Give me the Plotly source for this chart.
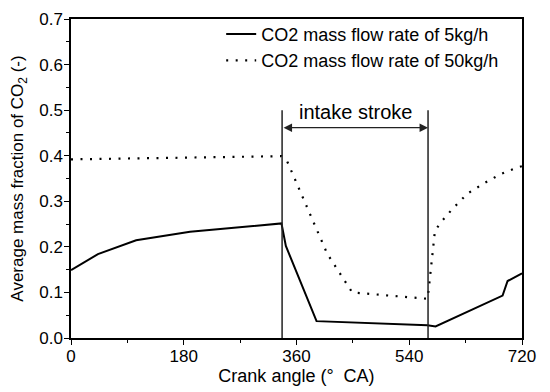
import plotly.graph_objects as go

# Solid series: CO2 mass flow rate of 5 kg/h
angle_5 = [0, 43, 104, 190, 336, 343, 392, 459, 569, 582, 689, 697, 720]
frac_5 = [0.149, 0.184, 0.2145, 0.233, 0.2515, 0.202, 0.037, 0.033, 0.028, 0.0254, 0.093, 0.125, 0.142]

# Dotted series: CO2 mass flow rate of 50 kg/h
angle_50 = [0, 180, 336, 345, 409, 449, 500, 569, 571, 574, 577, 581, 590, 600, 610, 621, 632, 660, 685, 712, 720]
frac_50 = [0.392, 0.396, 0.399, 0.388, 0.185, 0.100, 0.094, 0.086, 0.106, 0.149, 0.191, 0.235, 0.253, 0.270, 0.285, 0.300, 0.316, 0.340, 0.359, 0.374, 0.377]

series_names = ["CO2 mass flow rate of 5kg/h", "CO2 mass flow rate of 50kg/h"]

intake_start = 337
intake_end = 570
marker_top = 0.50
arrow_level = 0.4615
intake_label = "intake stroke"

x_ticks = [0, 180, 360, 540, 720]
y_ticks = [0.0, 0.1, 0.2, 0.3, 0.4, 0.5, 0.6, 0.7]

FONT = "Liberation Sans, Arial, sans-serif"

fig = go.Figure()
fig.add_trace(go.Scatter(x=angle_5, y=frac_5, mode="lines", name=series_names[0],
                         line=dict(color="black", width=2)))
fig.add_trace(go.Scatter(x=angle_50, y=frac_50, mode="lines", name=series_names[1],
                         line=dict(color="black", width=2.2, dash="2px,7.5px")))

for xv in (intake_start, intake_end):
    fig.add_shape(type="line", x0=xv, x1=xv, y0=0, y1=marker_top, xref="x", yref="y",
                  line=dict(color="#222222", width=1.5))

fig.add_annotation(x=intake_end, y=arrow_level, ax=intake_start, ay=arrow_level,
                   xref="x", yref="y", axref="x", ayref="y", text="",
                   showarrow=True, arrowhead=2, arrowside="end+start",
                   arrowsize=1.3, arrowwidth=1.3, arrowcolor="#222222",
                   standoff=0, startstandoff=0)
fig.add_annotation(x=(intake_start + intake_end) / 2, y=0.497, xref="x", yref="y",
                   text=intake_label, showarrow=False, xanchor="center", yanchor="middle",
                   font=dict(family=FONT, size=20, color="black"))

# the page body adds an 8px margin on the top and left
fig.update_layout(
    width=542, height=384,
    margin=dict(l=63, r=28, t=8, b=54),
    plot_bgcolor="white", paper_bgcolor="white",
    font=dict(family=FONT, size=17, color="black"),
    showlegend=True,
    legend=dict(x=0.333, y=1.01, xanchor="left", yanchor="top",
                bgcolor="rgba(0,0,0,0)", borderwidth=0,
                font=dict(family=FONT, size=18, color="black"),
                tracegroupgap=0),
)
fig.update_xaxes(range=[0, 720], tickvals=x_ticks, ticktext=[str(v) for v in x_ticks],
                 automargin=False, ticklabeloverflow="allow", ticklabelstandoff=-3,
                 showgrid=False, zeroline=False, showline=True, linecolor="black",
                 linewidth=1.5, mirror=True, ticks="outside", ticklen=5, tickwidth=1.3,
                 tickcolor="black",
                 minor=dict(dtick=90, tick0=0, ticks="outside", ticklen=3, tickwidth=1.2,
                            tickcolor="black", showgrid=False),
                 title=dict(text="Crank angle (°  CA)", standoff=2,
                            font=dict(family=FONT, size=18)),
                 tickfont=dict(family=FONT, size=17))
fig.update_yaxes(range=[0, 0.7], tickvals=y_ticks, ticktext=[f"{v:.1f}" for v in y_ticks],
                 automargin=False, ticklabeloverflow="allow", ticklabelstandoff=-2,
                 showgrid=False, zeroline=False, showline=True, linecolor="black",
                 linewidth=1.5, mirror=True, ticks="outside", ticklen=5, tickwidth=1.3,
                 tickcolor="black",
                 minor=dict(dtick=0.05, tick0=0, ticks="outside", ticklen=3, tickwidth=1.2,
                            tickcolor="black", showgrid=False),
                 title=dict(text="Average mass fraction of CO<sub>2</sub> (-)",
                            font=dict(family=FONT, size=17)),
                 tickfont=dict(family=FONT, size=17))

fig.write_html("out.html")
